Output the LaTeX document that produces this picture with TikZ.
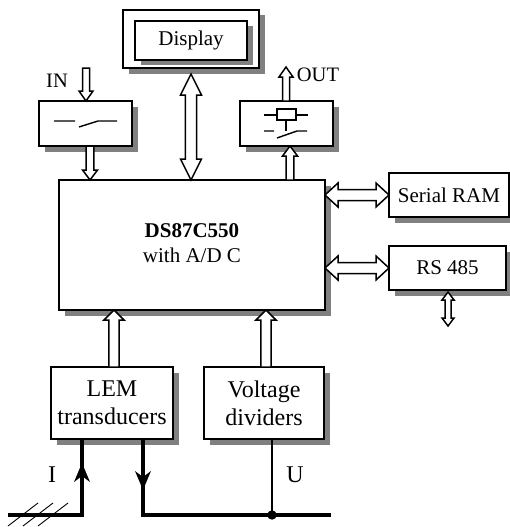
\documentclass[tikz,border=0pt]{standalone}
\usepackage{fontspec}
\setmainfont{Liberation Serif}
\usetikzlibrary{calc,shadows,arrows.meta}
\tikzset{
  boxn/.style={draw=black,line width=1.6pt,fill=white,outer sep=0pt,inner sep=0pt,align=center,
    general shadow={fill=black!50,shadow xshift=5.5pt,shadow yshift=-5.5pt}},
  hollow/.style={draw=black,line width=1.5pt,fill=white,line join=miter},
  small/.style={font=\fontsize{21}{24}\selectfont},
  big/.style={font=\fontsize{24}{28}\selectfont},
  wire/.style={line width=1.3pt,black},
  sym/.style={line width=1.4pt,black},
  power/.style={line width=3.3pt,black},
  hatch/.style={line width=0.9pt,black},
  barb/.style={fill=black,draw=none}
}
\newcommand\hollowone[5]{%
  \coordinate (s) at (#1); \coordinate (t) at (#2);
  \coordinate (h) at ($(t)!#5pt!(s)$);
  \draw[hollow] ($(s)!#3pt!90:(t)$) -- ($(h)!#3pt!90:(t)$) -- ($(h)!#4pt!90:(t)$) -- (t)
    -- ($(h)!#4pt!-90:(t)$) -- ($(h)!#3pt!-90:(t)$) -- ($(s)!#3pt!-90:(t)$) -- cycle;}
\newcommand\hollowtwo[5]{%
  \coordinate (s) at (#1); \coordinate (t) at (#2);
  \coordinate (h) at ($(t)!#5pt!(s)$); \coordinate (g) at ($(s)!#5pt!(t)$);
  \draw[hollow] (s) -- ($(g)!#4pt!90:(t)$) -- ($(g)!#3pt!90:(t)$) -- ($(h)!#3pt!90:(t)$) -- ($(h)!#4pt!90:(t)$) -- (t)
    -- ($(h)!#4pt!-90:(t)$) -- ($(h)!#3pt!-90:(t)$) -- ($(g)!#3pt!-90:(t)$) -- ($(g)!#4pt!-90:(t)$) -- cycle;}
\begin{document}
\begin{tikzpicture}[x=1pt,y=-1pt]
\useasboundingbox (0,0) rectangle (510,527);
\node[boxn,minimum width=136pt,minimum height=58pt] (outer) at (191,39) {};
\node[boxn,small,minimum width=112pt,minimum height=39pt] (display) at (191,40.5) {Display};
\node[boxn,minimum width=93pt,minimum height=45pt] (inbox) at (85.5,123.5) {};
\node[boxn,minimum width=93pt,minimum height=45pt] (outbox) at (286.5,123.5) {};
\node[boxn,minimum width=266pt,minimum height=130pt] (main) at (192,245) {};
\node[align=center,font=\fontsize{21}{25}\selectfont] (maintext) at (192,243) {\textbf{DS87C550}\\with A/D C};
\node[boxn,small,minimum width=120pt,minimum height=44pt] (ram) at (449,195) {Serial RAM};
\node[boxn,small,minimum width=117pt,minimum height=44pt] (rs) at (447.5,268) {RS 485};
\node[boxn,big,minimum width=122pt,minimum height=72pt] (lem) at (112,403) {LEM\\transducers};
\node[boxn,big,minimum width=120pt,minimum height=72pt] (volt) at (264,403) {Voltage\\dividers};
\coordinate (intop) at (86,68);
\coordinate (outtop) at (286,67);
\coordinate (inx) at (90,0);
\coordinate (outx) at (290,0);
\coordinate (lemx) at (114,0);
\coordinate (voltx) at (266,0);
\coordinate (rsbot) at (448,326);
\coordinate (rstop) at (448,292);
\coordinate (disptop) at (191,74);
\hollowone{intop}{intop |- inbox.north}{3.5}{7}{10}
\hollowone{inx |- inbox.south}{inx |- main.north}{3.8}{7.5}{10}
\hollowtwo{disptop}{disptop |- main.north}{5.7}{10.5}{21}
\hollowone{outtop |- outbox.north}{outtop}{3.5}{7}{10}
\hollowone{outx |- main.north}{outx |- outbox.south}{3.8}{7.5}{10}
\hollowone{lemx |- lem.north}{lemx |- main.south}{5.2}{10}{10}
\hollowone{voltx |- volt.north}{voltx |- main.south}{5.2}{10}{10}
\hollowtwo{main.east |- ram.west}{ram.west}{5.5}{12}{13}
\hollowtwo{main.east |- rs.west}{rs.west}{5.5}{12}{13}
\hollowtwo{rstop}{rsbot}{3}{6}{8}
\node[font=\fontsize{20.5}{24}\selectfont] (inlab) at (57,81) {IN};
\node[font=\fontsize{20.5}{24}\selectfont] (outlab) at (318,75) {OUT};
\node[big] (ilab) at (52,475) {I};
\node[big] (ulab) at (295,475) {U};
\draw[sym] (54,121) -- (75,121) (79,127) -- (98,121) -- (117,121);
\draw[sym,fill=white] (277,109) rectangle (296,120);
\draw[sym] (264,115) -- (277,115) (296,115) -- (308,115) (286,120) -- (286,131);
\draw[sym] (264,131) -- (274,131) (277,138) -- (297,131) -- (307,131);
\coordinate (lineL) at (8,515);
\coordinate (lineR) at (331,515);
\coordinate (lx) at (82,0);
\coordinate (rx) at (143,0);
\draw[power,line join=miter] (lineL) -- (lx |- lineL) -- (lx |- lem.south);
\draw[power,line join=miter] (rx |- lem.south) -- (rx |- lineR) -- (lineR);
\draw[wire] (272,0 |- volt.south) -- (272,515);
\coordinate (junction) at (272,515);
\fill (junction) circle (4.7pt);
\fill[barb] (82,463) -- (90,482) -- (82,476) -- (74,482) -- cycle;
\fill[barb] (143,490) -- (151,471) -- (143,477) -- (135,471) -- cycle;
\draw[hatch] (8,526) -- (38,503) (23,526) -- (53,503) (38,526) -- (68,503);
\end{tikzpicture}
\end{document}
